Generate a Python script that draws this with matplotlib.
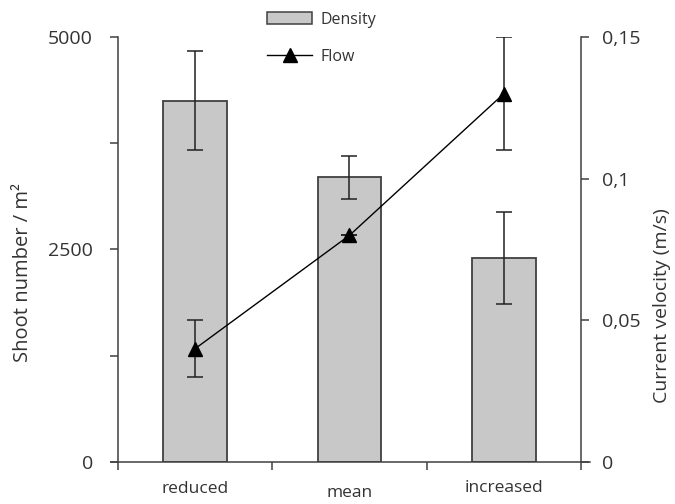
import matplotlib
matplotlib.use("Agg")
import matplotlib.pyplot as plt
import matplotlib.transforms as mtransforms
from matplotlib.patches import Patch
from matplotlib.lines import Line2D
import numpy as np

plt.rcParams['font.family'] = ['Open Sans', 'DejaVu Sans']

categories = ["reduced", "mean", "increased"]
density = [4250, 3350, 2400]
density_err = [580, 255, 545]
flow = [0.04, 0.08, 0.13]
flow_err = [0.01, 0.0, 0.02]

col_txt = "#333333"
col_ax = "#404040"

fig = plt.figure(figsize=(6.75, 5.04), dpi=100)
ax = fig.add_axes([111/675, 42/504, 479/675, 425/504])
x = np.arange(len(categories))

ax.bar(x, density, width=0.41, color="#c8c8c8", edgecolor=col_ax, linewidth=1.3,
       yerr=density_err, error_kw=dict(ecolor="#222222", elinewidth=1.1, capsize=6, capthick=1.1),
       zorder=2)
ax.set_xlim(-0.545, 2.558)
ax.set_ylim(0, 5000)
ax.set_yticks([0, 2500, 5000])
ax.set_yticks([1250, 3750], minor=True)
ax.set_xticks([-0.5, 0.5, 1.5, 2.5])
ax.set_xticklabels([])
ax.set_xticks(x, minor=True)
ax.set_xticklabels(categories, minor=True)

for s in ["top", "right"]:
    ax.spines[s].set_visible(False)
ax.spines["left"].set_position(("data", -0.5))
for s in ["left", "bottom"]:
    ax.spines[s].set_color(col_ax)
    ax.spines[s].set_linewidth(1.1)

ax.tick_params(axis="y", which="both", direction="out", length=6, width=1.1, color=col_ax,
               labelsize=14, labelcolor=col_txt, pad=12)
ax.tick_params(axis="x", which="major", direction="out", length=6, width=1.1, color=col_ax)
ax.tick_params(axis="x", which="minor", length=0, labelsize=12.5, labelcolor=col_txt, pad=14)

# slight vertical stagger of category labels as in the original
offsets = [0, -4, 1]
for lab, dy in zip(ax.get_xticklabels(minor=True), offsets):
    lab.set_transform(lab.get_transform() + mtransforms.ScaledTranslation(0, dy/100, fig.dpi_scale_trans))

ax.set_ylabel("Shoot number / m²", fontsize=14.5, color=col_txt)
ax.yaxis.set_label_coords(-0.163, 0.447)

ax2 = ax.twinx()
ax2.errorbar(x, flow, yerr=flow_err, color="black", linewidth=1.0, marker="^", markersize=10,
             ecolor="#222222", elinewidth=1.1, capsize=6, capthick=1.1, zorder=3)
ax2.set_ylim(0, 0.15)
ax2.set_yticks([0, 0.05, 0.1, 0.15])
ax2.set_yticklabels(["0", "0,05", "0,1", "0,15"])
for s in ["top", "left", "bottom"]:
    ax2.spines[s].set_visible(False)
ax2.spines["right"].set_position(("data", 2.5))
ax2.spines["right"].set_color(col_ax)
ax2.spines["right"].set_linewidth(1.1)
ax2.tick_params(axis="y", direction="out", length=6, width=1.1, color=col_ax,
                labelsize=14, labelcolor=col_txt, pad=9)
ax2.set_ylabel("Current velocity (m/s)", fontsize=14, color=col_txt)
ax2.yaxis.set_label_coords(1.1315, 0.367)

handles = [Patch(facecolor="#c8c8c8", edgecolor=col_ax, linewidth=1.1),
           Line2D([], [], color="black", linewidth=1.0, marker="^", markersize=10)]
leg = fig.legend(handles, ["Density", "Flow"], loc="upper left", bbox_to_anchor=(253/675, 1.005),
                 frameon=False, fontsize=11.5, handlelength=2.8, handleheight=0.8,
                 labelspacing=1.3, handletextpad=0.5)
for t in leg.get_texts():
    t.set_color(col_txt)

fig.savefig("out.png", dpi=100)
